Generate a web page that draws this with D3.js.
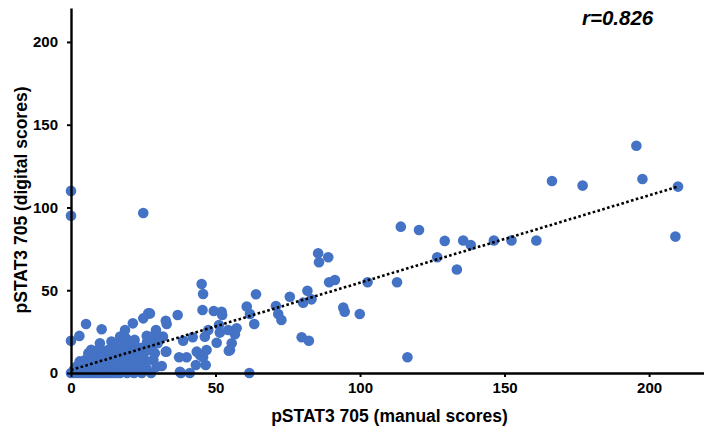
<!DOCTYPE html>
<html>
<head>
<meta charset="utf-8">
<script src="https://cdn.jsdelivr.net/npm/d3@7"></script>
<style>
  html, body { margin: 0; padding: 0; background: #fff; }
  svg { display: block; font-family: "Liberation Sans", Arial, sans-serif; }
</style>
</head>
<body>
<div id="chart"></div>
<script>
// ── Data ──────────────────────────────────────────────────────────────────────
const X_LABEL = "pSTAT3 705 (manual scores)";
const Y_LABEL = "pSTAT3 705 (digital scores)";
const R_LABEL = "r=0.826";
const X_TICKS = [0, 50, 100, 150, 200];
const Y_TICKS = [0, 50, 100, 150, 200];
const TREND_X = [0, 210];
const TREND_Y = [1.8, 112.6];

// [manual, digital]
const upperPoints = [
  [195.6,137.3],[197.7,117.2],[210,112.6],[209.1,82.4],[166.4,116],[177,113.2],
  [135.7,80],[138.3,77.3],[146.3,80],[152.4,80],[161,80],[133.5,62.5],
  [114.1,88.4],[120.4,86.4],[129.3,79.8],[126.7,69.9],[102.6,54.8],[112.8,54.8],
  [94.2,39.5],[94.7,37],[99.9,35.6],[116.4,9.5],
  [85.5,72.3],[89,69.9],[85.8,66.9],[89.3,54.8],[91.3,56.2],[81.8,49.7],
  [83.2,44.5],[80.3,42.5],[75.7,46.1],[70.9,40.5],[71.7,35.6],[72.8,32],
  [64,47.6],[60.8,40.1],[61.9,35.6],[63.4,29.6],[79.8,21.6],[82.3,19.5],
  [57.3,27],[56.7,23.4],[55.6,17.9],[55,13.9],[61.7,0],
  [0,110],[0,95],[25,96.7]
];

const midPoints = [
  [45.2,53.8],[45.7,47.7],[45.5,38.1],[49.4,37.5],[52.1,37],[52.3,35],
  [51.2,29],[47.5,26],[51.5,24.4],[54.4,26],[50.4,18.3],[54.6,13.5],
  [36.9,35],[32.8,31.6],[33.1,29.6],[29.4,26],[27.3,36],[38.8,19.5],
  [42.1,21.6],[46.3,21.9],[46.9,13.9],[44.6,10.9],[43.5,12.9],[45.7,9.5],
  [46.6,4.8],[43.2,4.8],[37.4,9.5],[40,9.5],[32.8,12.9],[28.5,7.9],
  [29.6,3.8],[31.4,4.2],[27.3,13.9],[38,0],[41.1,0],[27.9,22],
  [26.7,36],[25,33],[21.4,30],[18.7,26],[5.2,29.6],[10.6,26.4],[2.9,22.4],
  [0,19.5],[14,19],[26.2,22.4],[26.5,19.5],[31.8,22],[29,21],[26.2,18],
  [33,13],[37.7,0.8],[17,22],[19,21],[20,16],[22,17],[24,15],[23,12],[19,10]
];

const densePoints = [
  [0,0],[1,0],[2,0],[3,0],[4,0],[5,0],[6,0],[7,0],[8,0],[9,0],[10,0],[11,0],
  [12,0],[13,0],[14,0],[15,0],[16,0],[17,0],[19.4,0],[21.8,0],[24.5,0],[27.7,0],
  [1,2],[2,4],[3,3],[4,5],[5,2],[6,4],[7,3],[8,5],[9,2],[10,4],[11,3],[12,5],
  [13,2],[14,4],[15,3],[16,5],[18,3],[20,4],[22,2],[24,5],[26,3],
  [3,7],[5,8],[6,6],[7,10],[8,7],[9,9],[10,6],[11,8],[12,10],[13,7],[14,9],
  [15,6],[16,8],[17,10],[18,7],[20,9],[21,6],[23,8],[25,10],[26,7],
  [6,12],[7,14],[8,11],[9,13],[10,15],[11,12],[13,14],[15,12],[17,15],
  [19,13],[21,11],[23,14],[25,12],[27,14],[29,12],
  [10,18],[16,17],[19,18],[22,20],[28,17],[30,18]
];

const scores = upperPoints.concat(midPoints, densePoints);

// ── Dimensions ────────────────────────────────────────────────────────────────
const W = 704, H = 440;
const margin = { top: 8, right: 0, bottom: 67, left: 71 };
const width  = W - margin.left - margin.right;
const height = H - margin.top  - margin.bottom;
const DOT = "#4472C4";

const svg = d3.select("#chart").append("svg")
  .attr("width", W).attr("height", H);

const g = svg.append("g")
  .attr("transform", `translate(${margin.left},${margin.top})`);

// ── Scales ────────────────────────────────────────────────────────────────────
const x = d3.scaleLinear().domain([0, 219]).range([0, width]);
const y = d3.scaleLinear().domain([0, 220.5]).range([height, 0]);

// ── Points ────────────────────────────────────────────────────────────────────
g.selectAll("circle.pt")
  .data(scores)
  .join("circle")
  .attr("class", "pt")
  .attr("cx", d => x(d[0]))
  .attr("cy", d => y(d[1]))
  .attr("r", 5.3)
  .attr("fill", DOT);

// ── Trend line ────────────────────────────────────────────────────────────────
g.append("path")
  .datum(TREND_X.map((v, i) => [v, TREND_Y[i]]))
  .attr("d", d3.line().x(d => x(d[0])).y(d => y(d[1])))
  .attr("fill", "none")
  .attr("stroke", "#000")
  .attr("stroke-width", 2.6)
  .attr("stroke-dasharray", "2.6,2.4");

// ── Axes ──────────────────────────────────────────────────────────────────────
const xAxis = g.append("g")
  .attr("transform", `translate(0,${height})`)
  .call(d3.axisBottom(x).tickValues(X_TICKS).tickSize(4).tickPadding(5).tickSizeOuter(0));

const yAxis = g.append("g")
  .call(d3.axisLeft(y).tickValues(Y_TICKS).tickSize(4).tickPadding(9).tickSizeOuter(0));

[xAxis, yAxis].forEach(a => {
  a.select(".domain").attr("stroke", "#000").attr("stroke-width", 2.4);
  a.selectAll(".tick line").attr("stroke", "#000").attr("stroke-width", 2);
  a.selectAll(".tick text")
    .attr("fill", "#000")
    .style("font-family", "'Liberation Sans', Arial, sans-serif")
    .style("font-size", "15px")
    .style("font-weight", "bold");
});

// ── Titles ────────────────────────────────────────────────────────────────────
svg.append("text")
  .attr("x", 389.5)
  .attr("y", 422)
  .attr("text-anchor", "middle")
  .style("font-size", "17.5px")
  .style("font-weight", "bold")
  .text(X_LABEL);

svg.append("text")
  .attr("transform", `translate(27,200) rotate(-90)`)
  .attr("text-anchor", "middle")
  .style("font-size", "17.5px")
  .style("font-weight", "bold")
  .text(Y_LABEL);

svg.append("text")
  .attr("x", 582)
  .attr("y", 25)
  .style("font-size", "20.5px")
  .style("font-weight", "bold")
  .style("font-style", "italic")
  .text(R_LABEL);
</script>
</body>
</html>
